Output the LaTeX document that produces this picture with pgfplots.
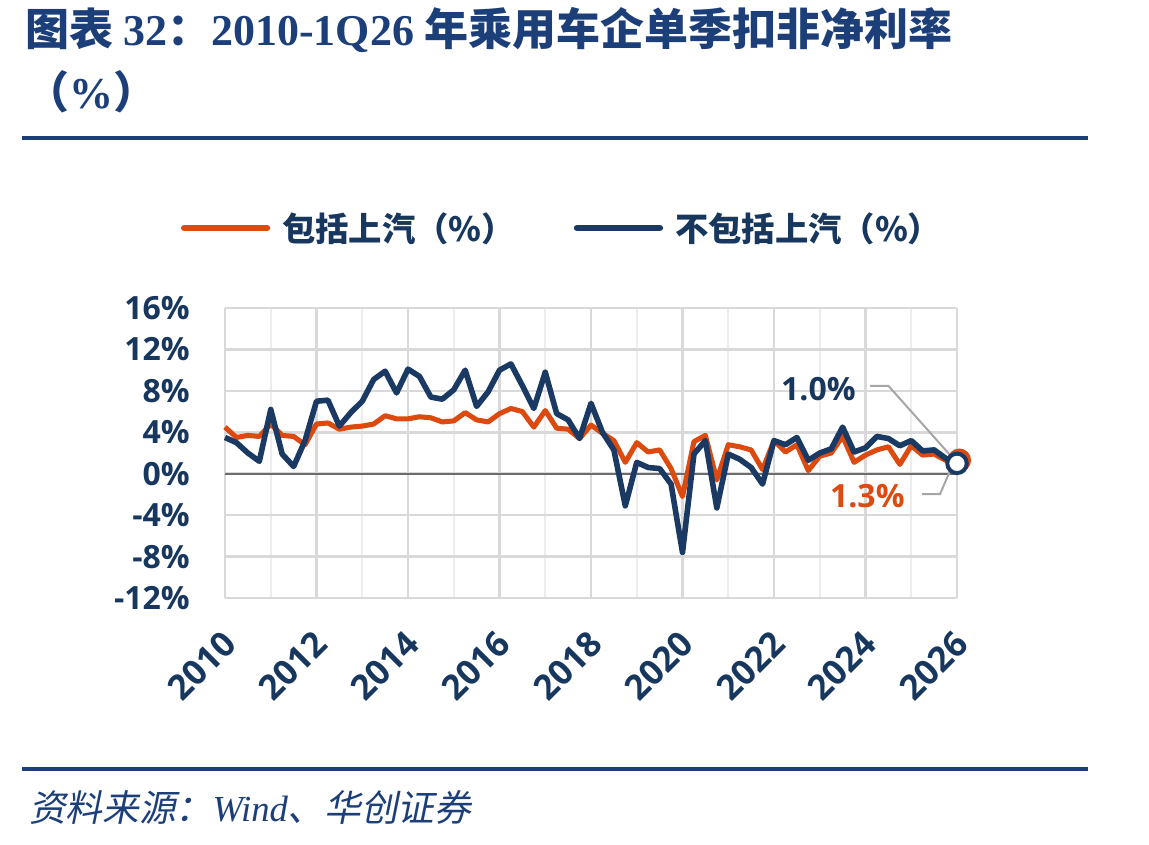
\documentclass[border=0pt]{standalone}
\usepackage{fontspec}
\usepackage{pgfplots}
\pgfplotsset{compat=1.18}
\setmainfont{Open Sans}
\newfontfamily\cjk{Noto Sans CJK SC}
\newfontfamily\cjkslant{Noto Sans CJK SC}[FakeSlant=0.2]
\newfontfamily\serif{Liberation Serif}
\definecolor{navy}{HTML}{17375E}
\definecolor{lineblue}{HTML}{1A3A63}
\definecolor{lineorange}{HTML}{DC4A10}
\definecolor{titleblue}{HTML}{1C3F7A}
\definecolor{gridgray}{HTML}{D9D9D9}
\definecolor{gridlight}{HTML}{EDEDED}
\definecolor{leader}{HTML}{A6A6A6}
\newcommand\tickfont{\fontsize{24pt}{28pt}\selectfont\bfseries}
\newcommand\xtickfont{\fontsize{26pt}{30pt}\selectfont\bfseries}
\newcommand\legfont{\fontsize{25pt}{30pt}\selectfont\cjk\bfseries}

\pgfplotstableread{
x y
2010.00 4.5
2010.25 3.5
2010.50 3.7
2010.75 3.6
2011.00 4.8
2011.25 3.7
2011.50 3.6
2011.75 2.8
2012.00 4.8
2012.25 4.9
2012.50 4.3
2012.75 4.5
2013.00 4.6
2013.25 4.8
2013.50 5.6
2013.75 5.3
2014.00 5.3
2014.25 5.5
2014.50 5.4
2014.75 5.0
2015.00 5.1
2015.25 5.9
2015.50 5.2
2015.75 5.0
2016.00 5.8
2016.25 6.3
2016.50 6.0
2016.75 4.5
2017.00 6.1
2017.25 4.4
2017.50 4.3
2017.75 3.4
2018.00 4.7
2018.25 3.9
2018.50 3.2
2018.75 1.1
2019.00 3.0
2019.25 2.1
2019.50 2.3
2019.75 0.5
2020.00 -2.2
2020.25 3.1
2020.50 3.7
2020.75 -0.6
2021.00 2.8
2021.25 2.6
2021.50 2.3
2021.75 0.4
2022.00 3.2
2022.25 2.1
2022.50 2.8
2022.75 0.3
2023.00 1.7
2023.25 2.0
2023.50 3.6
2023.75 1.1
2024.00 1.8
2024.25 2.3
2024.50 2.6
2024.75 0.9
2025.00 2.7
2025.25 1.8
2025.50 1.9
2025.75 1.3
2026.00 1.3
}\incl

\pgfplotstableread{
x y
2010.00 3.5
2010.25 3.0
2010.50 2.0
2010.75 1.2
2011.00 6.2
2011.25 1.9
2011.50 0.7
2011.75 3.2
2012.00 7.0
2012.25 7.1
2012.50 4.6
2012.75 5.9
2013.00 7.0
2013.25 9.1
2013.50 9.9
2013.75 7.8
2014.00 10.1
2014.25 9.4
2014.50 7.4
2014.75 7.2
2015.00 8.1
2015.25 10.0
2015.50 6.5
2015.75 7.9
2016.00 10.0
2016.25 10.6
2016.50 8.5
2016.75 6.3
2017.00 9.8
2017.25 5.8
2017.50 5.2
2017.75 3.4
2018.00 6.8
2018.25 4.0
2018.50 2.3
2018.75 -3.1
2019.00 1.1
2019.25 0.6
2019.50 0.5
2019.75 -1.0
2020.00 -7.6
2020.25 1.9
2020.50 3.2
2020.75 -3.3
2021.00 1.9
2021.25 1.4
2021.50 0.6
2021.75 -1.0
2022.00 3.2
2022.25 2.8
2022.50 3.5
2022.75 1.3
2023.00 2.0
2023.25 2.4
2023.50 4.5
2023.75 2.1
2024.00 2.5
2024.25 3.6
2024.50 3.4
2024.75 2.7
2025.00 3.2
2025.25 2.2
2025.50 2.3
2025.75 1.5
2026.00 1.0
}\excl

\begin{document}
\begin{tikzpicture}
\useasboundingbox (0,0) rectangle (861.75pt,-633pt);
% title
\node[anchor=base west, inner sep=0pt, text=titleblue] at (18.75pt,-33.75pt)
  {\fontsize{33pt}{38pt}\selectfont\cjk\bfseries 图表\ {\serif\bfseries 32}：{\serif\bfseries 2010-1Q26} 年乘用车企单季扣非净利率};
\node[anchor=base west, inner sep=0pt, text=titleblue] at (18.75pt,-81pt)
  {\fontsize{33pt}{38pt}\selectfont\cjk\bfseries （{\serif\bfseries \%}）};
\fill[titleblue] (16.5pt,-102pt) rectangle (816pt,-105pt);
\fill[titleblue] (16.5pt,-575.5pt) rectangle (816pt,-578.5pt);
\node[anchor=base west, inner sep=0pt, text=titleblue] at (21.75pt,-616pt)
  {\fontsize{27.5pt}{32pt}\selectfont\cjkslant 资料来源：{\serif\itshape Wind}、华创证券};

\begin{axis}[
  at={(168.75pt,-448.5pt)}, anchor=south west,
  scale only axis, width=549pt, height=217.5pt,
  xmin=2010, xmax=2026, ymin=-12, ymax=16,
  clip=false,
  xtick={2010,2012,2014,2016,2018,2020,2022,2024,2026},
  xticklabels={2010,2012,2014,2016,2018,2020,2022,2024,2026},
  minor xtick={2011,2013,2015,2017,2019,2021,2023,2025},
  ytick={-12,-8,-4,0,4,8,12,16},
  yticklabels={-12\%,-8\%,-4\%,0\%,4\%,8\%,12\%,16\%},
  grid=both,
  major grid style={draw=gridgray, line width=2pt},
  minor grid style={draw=gridlight, line width=1.5pt},
  axis line style={draw=none},
  major tick length=0pt, minor tick length=0pt,
  tick label style={text=navy},
  yticklabel style={font=\tickfont, anchor=east, inner sep=0pt, xshift=-26.25pt},
  xticklabel style={font=\xtickfont, xshift=-3.5pt, yshift=-23pt, rotate=45, anchor=north east, inner sep=0pt},
  legend style={at={(axis description cs:0.461,1.276)}, anchor=center, draw=none, fill=none,
    font=\legfont, text=navy, inner sep=0pt,
    /tikz/every even column/.append style={column sep=42pt},
    /tikz/every odd column/.append style={column sep=7pt}},
  legend columns=2,
  legend cell align=left,
  legend image code/.code={\draw[#1, line cap=round, line width=5pt] (0pt,0pt) -- (62pt,0pt);},
]
\addplot[draw=gray!85!black, line width=1.2pt, forget plot] coordinates {(2010,0) (2026,0)};
\addplot[lineorange, line width=3.8pt, line join=round, mark=none] table[x=x,y=y] {\incl};
\addlegendentry{包括上汽（\%）}
\addplot[only marks, mark=*, mark size=7.3pt, mark options={draw=lineorange, fill=white, line width=3pt}, forget plot] coordinates {(2026.05,1.3)};
\addplot[lineblue, line width=4.2pt, line join=round, mark=none] table[x=x,y=y] {\excl};
\addlegendentry{不包括上汽（\%）}
\addplot[only marks, mark=*, mark size=7.3pt, mark options={draw=lineblue, fill=white, line width=3pt}, forget plot] coordinates {(2026,1.0)};
\draw[leader, line width=1.5pt] (axis cs:2024.10,8.49) -- (axis cs:2024.50,8.49) -- (axis cs:2025.96,1.25);
\draw[leader, line width=1.5pt] (axis cs:2025.23,-1.96) -- (axis cs:2025.63,-1.96) -- (axis cs:2025.88,0.61);
\node[anchor=base, inner sep=0pt, text=navy, font=\tickfont] at (axis cs:2022.97,7.05) {1.0\%};
\node[anchor=base, inner sep=0pt, text=lineorange, font=\tickfont] at (axis cs:2024.04,-3.25) {1.3\%};
\end{axis}
\end{tikzpicture}
\end{document}
